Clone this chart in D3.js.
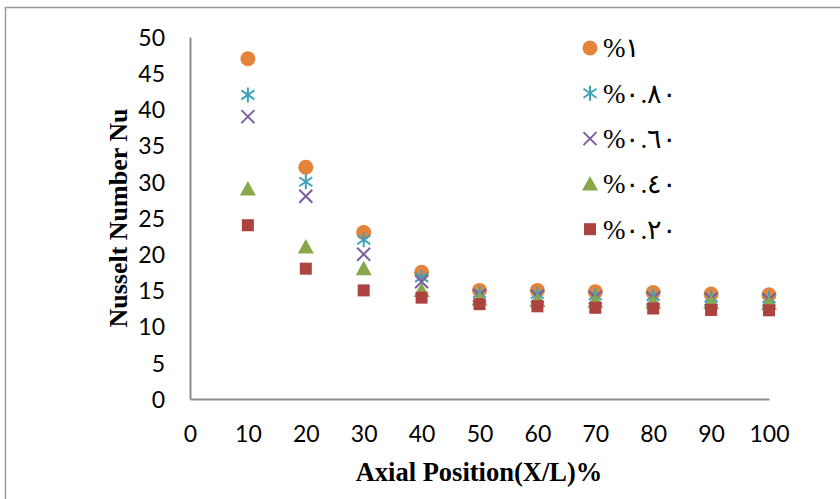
<!DOCTYPE html>
<html>
<head>
<meta charset="utf-8">
<script src="https://cdn.jsdelivr.net/npm/d3@7"></script>
<style>
    body { margin: 0; background: #fff; }
    svg { display: block; }
</style>
</head>
<body>
<svg id="draw-area" width="840" height="499"></svg>
<script>
// axial positions (X/L %)
const positions = [10, 20, 30, 40, 50, 60, 70, 80, 90, 100];

// Nusselt number per concentration
const nu_100 = [47, 32, 23, 17.5, 15, 15, 14.8, 14.7, 14.5, 14.4];
const nu_080 = [42, 30, 22, 16.8, 14.6, 14.5, 14.3, 14.2, 14.0, 13.9];
const nu_060 = [39, 28, 20, 16.2, 14.3, 14.2, 14.0, 13.9, 13.8, 13.7];
const nu_040 = [29, 21, 18, 15, 13.8, 13.6, 13.5, 13.4, 13.3, 13.2];
const nu_020 = [24, 18, 15, 14, 13.1, 12.8, 12.6, 12.5, 12.3, 12.25];

const series_names = ["%١", "%٠.٨٠", "%٠.٦٠", "%٠.٤٠", "%٠.٢٠"];
const x_ticks = [0, 10, 20, 30, 40, 50, 60, 70, 80, 90, 100];
const y_ticks = [0, 5, 10, 15, 20, 25, 30, 35, 40, 45, 50];

const series = [
    { name: series_names[0], values: nu_100, marker: "circle", color: "#e3843a" },
    { name: series_names[1], values: nu_080, marker: "star", color: "#3fa0bd" },
    { name: series_names[2], values: nu_060, marker: "cross", color: "#7c5da0" },
    { name: series_names[3], values: nu_040, marker: "triangle", color: "#88a84b" },
    { name: series_names[4], values: nu_020, marker: "square", color: "#ad4340" }
];

let svg = d3.select("#draw-area");

// outer chart border (only top and left visible)
svg.append("rect")
    .attr("x", 5.5).attr("y", 7.5)
    .attr("width", 900).attr("height", 700)
    .style("fill", "none")
    .style("stroke", "#9a9a9a")
    .style("stroke-width", 1.5);

let xScale = d3.scaleLinear().domain([0, 100]).range([190, 769]);
let yScale = d3.scaleLinear().domain([0, 50]).range([399, 37]);

let tickFont = "Lato, 'Open Sans', sans-serif";

let xAxis = d3.axisBottom(xScale).tickValues(x_ticks).tickSize(0).tickPadding(27);
let yAxis = d3.axisLeft(yScale).tickValues(y_ticks).tickSize(0).tickPadding(25);

let gx = svg.append("g")
    .attr("class", "x-axis")
    .attr("transform", `translate(0, ${yScale(0)})`)
    .call(xAxis);
let gy = svg.append("g")
    .attr("class", "y-axis")
    .attr("transform", `translate(${xScale(0)}, 0)`)
    .call(yAxis);

[gx, gy].forEach(g => {
    g.select(".domain").style("stroke", "#8c8c8c").style("stroke-width", 2);
    g.selectAll("text")
        .style("font-family", tickFont)
        .style("font-size", "23px")
        .style("fill", "#000");
});
gy.selectAll("text").attr("dy", "0.36em");

// axis titles
svg.append("text")
    .attr("x", 479).attr("y", 481)
    .attr("text-anchor", "middle")
    .style("font-family", "'Liberation Serif', serif")
    .style("font-weight", "bold")
    .style("font-size", "26.5px")
    .text("Axial Position(X/L)%");

svg.append("text")
    .attr("transform", "translate(127, 218) rotate(-90)")
    .attr("text-anchor", "middle")
    .style("font-family", "'Liberation Serif', serif")
    .style("font-weight", "bold")
    .style("font-size", "26px")
    .text("Nusselt Number Nu");

function drawMarker(g, type, color) {
    if (type == "circle") {
        g.append("circle").attr("r", 7.5).style("fill", color);
    } else if (type == "square") {
        g.append("rect").attr("x", -6).attr("y", -6).attr("width", 12).attr("height", 12).style("fill", color);
    } else if (type == "triangle") {
        g.append("path").attr("d", "M0,-8 L8,6.5 L-8,6.5 Z").style("fill", color);
    } else if (type == "cross") {
        g.append("path").attr("d", "M-6.5,-6.5 L6.5,6.5 M-6.5,6.5 L6.5,-6.5")
            .style("stroke", color).style("stroke-width", 2).style("fill", "none");
    } else if (type == "star") {
        g.append("path").attr("d", "M0,-7.5 L0,7.5 M-6.5,-4.5 L6.5,4.5 M-6.5,4.5 L6.5,-4.5")
            .style("stroke", color).style("stroke-width", 2).style("fill", "none");
    }
}

// points
series.forEach(s => {
    let pts = svg.append("g").attr("class", "series");
    positions.forEach((p, i) => {
        let g = pts.append("g")
            .attr("transform", `translate(${xScale(p)}, ${yScale(s.values[i])})`);
        drawMarker(g, s.marker, s.color);
    });
});

// legend
let legend = svg.append("g").attr("class", "legend");
series.forEach((s, i) => {
    let row = legend.append("g").attr("transform", `translate(590, ${48 + i * 45.3})`);
    drawMarker(row, s.marker, s.color);
    row.append("text")
        .attr("x", 13)
        .attr("dy", "0.35em")
        .attr("direction", "ltr")
        .attr("unicode-bidi", "bidi-override")
        .style("font-family", "'Liberation Serif', 'DejaVu Serif', serif")
        .style("font-size", "27px")
        .text(s.name);
});
</script>
</body>
</html>
